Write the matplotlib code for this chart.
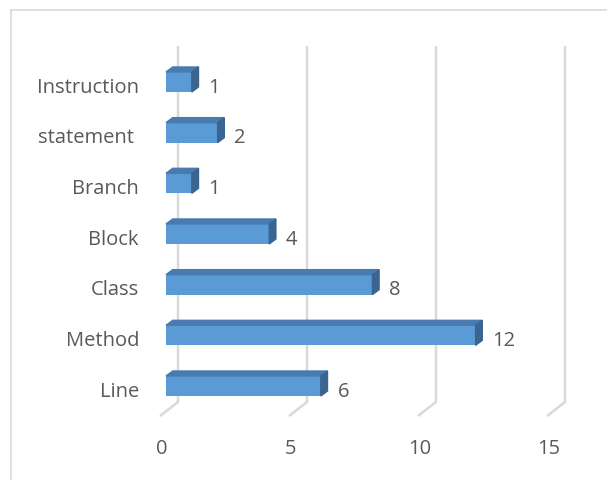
import numpy as np
import matplotlib
matplotlib.use("Agg")
import matplotlib.pyplot as plt
from matplotlib.patches import Polygon, Rectangle

# Données
categories = ['Line', 'Method', 'Class', 'Block', 'Branch', 'statement ', 'Instruction']
counts = [6, 12, 8, 4, 1, 2, 1]
ticks = [0, 5, 10, 15]

plt.rcParams['font.family'] = ['Open Sans', 'DejaVu Sans']
text_col = '#595959'
grid_col = '#D9D9D9'
front_col = '#5B9BD5'
top_col = '#4A7BB0'
side_col = '#3A6591'
fs = 14.5

fig = plt.figure(figsize=(6.07, 4.81), dpi=100)
ax = fig.add_axes([0, 0, 1, 1])
ax.set_xlim(-166 / 25.8, (607 - 166) / 25.8)
ax.set_ylim((387 - 481) / 50.67, 387 / 50.67)
ax.axis('off')

# cadre du graphique
fig.patches.append(Rectangle((11 / 607, -0.5), 2.0, 0.5 + (481 - 11) / 481,
                             transform=fig.transFigure, fill=False,
                             edgecolor=grid_col, lw=1.2))

# profondeur 3D
h = 0.395
dx = 6.7 / 25.8
dy = 5 / 50.67
back = 12 / 25.8
front = -6 / 25.8
y_top = (387 - 47) / 50.67
y_floor = (387 - 403) / 50.67
y_front = (387 - 417) / 50.67
txt_shift = -0.09

# quadrillage (paroi arrière + sol)
for t in ticks:
    ax.plot([t + back, t + back, t + front], [y_top, y_floor, y_front],
            color=grid_col, lw=1.8, solid_capstyle='butt', zorder=1)
    ax.text(t + front + 0.05, (387 - 449) / 50.67, str(t), ha='center', va='center',
            fontsize=fs, color=text_col)

y = np.arange(len(categories))
ax.barh(y, counts, height=h, left=0, color=front_col, zorder=3)
for yi, v in zip(y, counts):
    ax.add_patch(Polygon([(0, yi + h / 2), (v, yi + h / 2), (v + dx, yi + h / 2 + dy),
                          (dx, yi + h / 2 + dy)], closed=True, color=top_col, zorder=3))
    ax.add_patch(Polygon([(v, yi - h / 2), (v, yi + h / 2), (v + dx, yi + h / 2 + dy),
                          (v + dx, yi - h / 2 + dy)], closed=True, color=side_col, zorder=3))
    ax.text(v + 0.65, yi + txt_shift, str(v), ha='left', va='center', fontsize=fs,
            color=text_col)

for yi, c in zip(y, categories):
    ax.text((139 - 166) / 25.8, yi + txt_shift, c, ha='right', va='center', fontsize=fs,
            color=text_col)

fig.savefig('out.png', dpi=100)
